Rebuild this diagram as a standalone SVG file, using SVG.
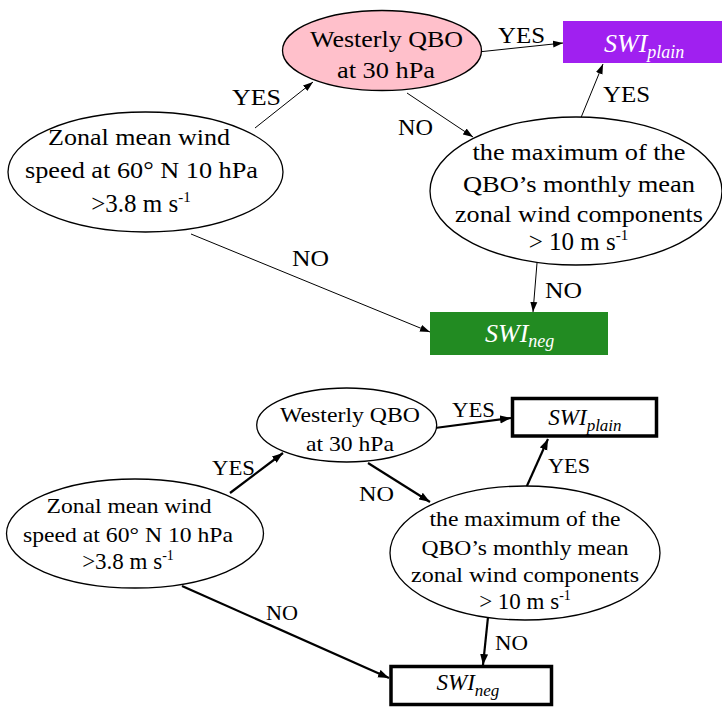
<svg xmlns="http://www.w3.org/2000/svg" width="722" height="707" viewBox="0 0 722 707">
<defs>
<marker id="a1" markerUnits="userSpaceOnUse" markerWidth="11" markerHeight="8" refX="10" refY="4" orient="auto"><path d="M0,0.5 L10,4 L0,7.5z" fill="#000"/></marker>
<marker id="a2" markerUnits="userSpaceOnUse" markerWidth="12" markerHeight="9" refX="11" refY="4.5" orient="auto"><path d="M0,0.5 L11,4.5 L0,8.5z" fill="#000"/></marker>
</defs>
<g font-family="Liberation Serif" fill="#000">

<g id="connectors-top" stroke="#000" stroke-width="1" fill="none" marker-end="url(#a1)">
<line x1="255" y1="128" x2="313" y2="82"/>
<line x1="478" y1="52" x2="563" y2="43"/>
<line x1="407" y1="93" x2="473" y2="137"/>
<line x1="580" y1="120" x2="603" y2="64"/>
<line x1="191" y1="234" x2="430" y2="332"/>
<line x1="537" y1="263" x2="533" y2="312"/>
</g>
<g id="labels-top" font-size="24" lengthAdjust="spacingAndGlyphs">
<text x="232" y="105" textLength="49" lengthAdjust="spacingAndGlyphs">YES</text>
<text x="498" y="43" textLength="47" lengthAdjust="spacingAndGlyphs">YES</text>
<text x="398" y="135" textLength="35" lengthAdjust="spacingAndGlyphs">NO</text>
<text x="603" y="102" textLength="47" lengthAdjust="spacingAndGlyphs">YES</text>
<text x="292" y="266" textLength="37" lengthAdjust="spacingAndGlyphs">NO</text>
<text x="545" y="298" textLength="37" lengthAdjust="spacingAndGlyphs">NO</text>
</g>

<g id="zonal-top" font-size="24" text-anchor="middle">
<ellipse cx="145.5" cy="172" rx="137.5" ry="60" fill="#fff" stroke="#000" stroke-width="1.3"/>
<text x="139" y="145" textLength="182" lengthAdjust="spacingAndGlyphs">Zonal mean wind</text>
<text x="141.5" y="178" textLength="233" lengthAdjust="spacingAndGlyphs">speed at 60° N 10 hPa</text>
<text x="141" y="212" font-size="25">&gt;3.8 m s<tspan font-size="15" dy="-10">-1</tspan></text>
</g>

<g id="westerly-top" font-size="24" text-anchor="middle">
<ellipse cx="382" cy="50.5" rx="99.5" ry="40" fill="#FFC0CB" stroke="#000" stroke-width="1.3"/>
<text x="386.5" y="47" textLength="153" lengthAdjust="spacingAndGlyphs">Westerly QBO</text>
<text x="386" y="78" textLength="98" lengthAdjust="spacingAndGlyphs">at 30 hPa</text>
</g>

<g id="maximum-top" font-size="24" text-anchor="middle">
<ellipse cx="576" cy="191" rx="146" ry="74" fill="#fff" stroke="#000" stroke-width="1.3"/>
<text x="579" y="160" textLength="213" lengthAdjust="spacingAndGlyphs">the maximum of the</text>
<text x="579" y="191.5" textLength="232" lengthAdjust="spacingAndGlyphs">QBO’s monthly mean</text>
<text x="579" y="221.5" textLength="248" lengthAdjust="spacingAndGlyphs">zonal wind components</text>
<text x="578.5" y="250" font-size="25">&gt; 10 m s<tspan font-size="15" dy="-10">-1</tspan></text>
</g>

<g id="swi-plain-top" font-style="italic">
<rect x="563" y="21" width="159" height="42" fill="#A020F0"/>
<text x="604" y="52" font-size="26" fill="#fff">SWI<tspan font-size="18" dy="5.5">plain</tspan></text>
</g>

<g id="swi-neg-top" font-style="italic">
<rect x="430" y="312" width="178" height="43" fill="#228B22"/>
<text x="485" y="341.5" font-size="26" fill="#fff">SWI<tspan font-size="18" dy="5">neg</tspan></text>
</g>

<g id="connectors-bottom" stroke="#000" stroke-width="2.2" fill="none" marker-end="url(#a2)">
<line x1="230" y1="493" x2="283" y2="453"/>
<line x1="435" y1="428" x2="511" y2="418"/>
<line x1="368" y1="463" x2="430" y2="502"/>
<line x1="526" y1="488" x2="548" y2="439"/>
<line x1="182" y1="586" x2="389" y2="678"/>
<line x1="488" y1="617" x2="483" y2="665"/>
</g>
<g id="labels-bottom" font-size="22">
<text x="212" y="475" textLength="43" lengthAdjust="spacingAndGlyphs">YES</text>
<text x="452" y="417" textLength="43" lengthAdjust="spacingAndGlyphs">YES</text>
<text x="359" y="501" textLength="35" lengthAdjust="spacingAndGlyphs">NO</text>
<text x="548" y="473" textLength="42" lengthAdjust="spacingAndGlyphs">YES</text>
<text x="266" y="620" textLength="32" lengthAdjust="spacingAndGlyphs">NO</text>
<text x="495" y="650" textLength="33" lengthAdjust="spacingAndGlyphs">NO</text>
</g>

<g id="zonal-bottom" font-size="22" text-anchor="middle">
<ellipse cx="135" cy="533.5" rx="128.5" ry="54.5" fill="#fff" stroke="#000" stroke-width="1.3"/>
<text x="129" y="513" textLength="165" lengthAdjust="spacingAndGlyphs">Zonal mean wind</text>
<text x="128" y="541.5" textLength="210" lengthAdjust="spacingAndGlyphs">speed at 60° N 10 hPa</text>
<text x="128" y="568.5" font-size="23">&gt;3.8 m s<tspan font-size="14" dy="-9">-1</tspan></text>
</g>

<g id="westerly-bottom" font-size="22" text-anchor="middle">
<ellipse cx="346.7" cy="425" rx="90" ry="37" fill="#fff" stroke="#000" stroke-width="1.3"/>
<text x="350" y="421.5" textLength="140" lengthAdjust="spacingAndGlyphs">Westerly QBO</text>
<text x="350" y="451" textLength="88" lengthAdjust="spacingAndGlyphs">at 30 hPa</text>
</g>

<g id="maximum-bottom" font-size="22" text-anchor="middle">
<ellipse cx="525" cy="553" rx="135" ry="67" fill="#fff" stroke="#000" stroke-width="1.3"/>
<text x="525" y="526" textLength="191" lengthAdjust="spacingAndGlyphs">the maximum of the</text>
<text x="525" y="555" textLength="207" lengthAdjust="spacingAndGlyphs">QBO’s monthly mean</text>
<text x="525" y="582" textLength="228" lengthAdjust="spacingAndGlyphs">zonal wind components</text>
<text x="525" y="609" font-size="23">&gt; 10 m s<tspan font-size="14" dy="-9">-1</tspan></text>
</g>

<g id="swi-plain-bottom" font-style="italic">
<rect x="512.5" y="398.5" width="144" height="37.5" fill="#fff" stroke="#000" stroke-width="3.5"/>
<text x="548.3" y="425" font-size="23">SWI<tspan font-size="17" dy="6">plain</tspan></text>
</g>

<g id="swi-neg-bottom" font-style="italic">
<rect x="391" y="666.5" width="160.5" height="38" fill="#fff" stroke="#000" stroke-width="3.5"/>
<text x="436.5" y="690" font-size="23">SWI<tspan font-size="17" dy="5.5">neg</tspan></text>
</g>
</g>
</svg>
